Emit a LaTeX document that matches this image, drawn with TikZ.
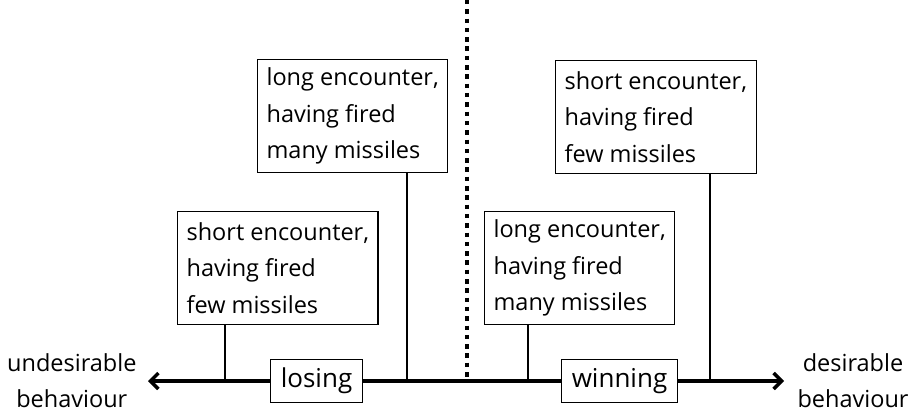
\documentclass[tikz,border=0pt]{standalone}
\usepackage{fontspec}
\setmainfont{Open Sans}
\usetikzlibrary{arrows.meta}
\tikzset{
  case/.style={draw, line width=1.2pt, align=left, inner xsep=9pt, minimum height=113pt, anchor=north west, font=\fontsize{23.5}{36.5}\selectfont},
  tag/.style={draw, fill=white, line width=1.2pt, inner xsep=10pt, inner ysep=9.5pt, text height=18.5pt, text depth=5.5pt, font=\fontsize{26}{30}\selectfont},
  side/.style={align=center, font=\fontsize{23.5}{36}\selectfont},
  stem/.style={line width=1.2pt},
}
\begin{document}
\begin{tikzpicture}[x=1pt,y=-1pt]
		\useasboundingbox (0,0) rectangle (912,417);
		% axis ends and the feet of the stems
		\coordinate (l) at (148,381);
		\coordinate (r) at (784,381);
		\coordinate (s1) at (225,381);
		\coordinate (s2) at (407,381);
		\coordinate (s3) at (528,381);
		\coordinate (s4) at (710,381);
		\coordinate (top) at (467,0);
		\coordinate (mid) at (467,381);
		% the four outcomes
		\node[case] (lshort) at (177,211) {short encounter,\\having fired\\few missiles};
		\node[case] (llong) at (257,59) {long encounter,\\having fired\\many missiles};
		\node[case] (wlong) at (484,211) {long encounter,\\having fired\\many missiles};
		\node[case] (wshort) at (555,60) {short encounter,\\having fired\\few missiles};
		\draw[stem]
		(lshort.south -| s1) -- (s1)
		(llong.south -| s2) -- (s2)
		(wlong.south -| s3) -- (s3)
		(wshort.south -| s4) -- (s4);
		\draw[line width=4pt, dash pattern=on 4.5pt off 4.8pt] (top) -- (mid);
		\draw[line width=3.5pt, {Straight Barb[length=8pt,width=16pt]}-{Straight Barb[length=8pt,width=16pt]}] (l) -- (r);
		\node[tag] (lose) at (316.5,381) {losing};
		\node[tag] (win) at (619.5,381) {winning};
		\node[side, anchor=east] (bad) at (l) [xshift=-8pt] {undesirable\\behaviour};
		\node[side, anchor=west] (good) at (r) [xshift=10pt] {desirable\\behaviour};
\end{tikzpicture}
\end{document}
